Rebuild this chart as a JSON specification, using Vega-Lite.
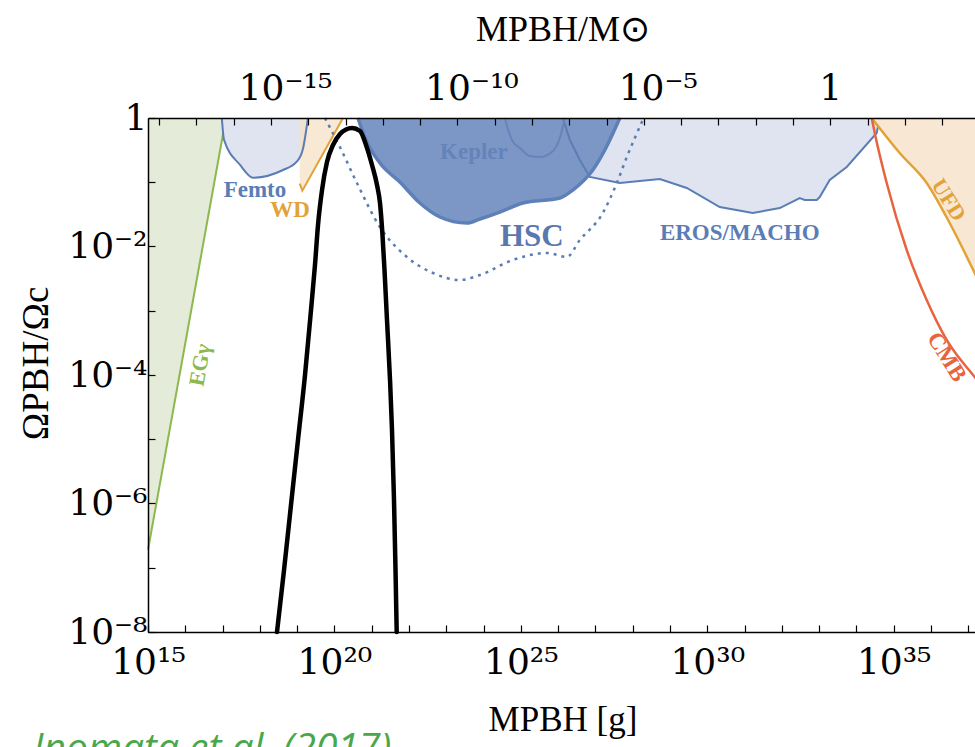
{
  "$schema": "https://vega.github.io/schema/vega-lite/v6.json",
  "width": 829,
  "height": 514,
  "autosize": "none",
  "padding": {"left": 148, "top": 118, "right": 0, "bottom": 115},
  "background": "white",
  "config": {"view": {"stroke": null}, "axis": {"grid": false, "zindex": 1}},
  "title": {"text": "Inomata et al. (2017)", "orient": "bottom", "anchor": "start", "frame": "group", "font": "Open Sans", "fontStyle": "italic", "fontWeight": "normal", "fontSize": 39, "color": "#4aa84a", "offset": -7, "dx": -115, "baseline": "top"},
  "datasets": {
    "egamma": [{"mass_g": 1e15, "omega_ratio": 1.905e-7}, {"mass_g": 1.23e17, "omega_ratio": 1}],
    "femto": [
      {"mass_g": 9.55e16, "omega_ratio": 1}, {"mass_g": 1.096e17, "omega_ratio": 0.457}, {"mass_g": 2.951e17, "omega_ratio": 0.186},
      {"mass_g": 6.607e17, "omega_ratio": 0.1175}, {"mass_g": 4.169e18, "omega_ratio": 0.155}, {"mass_g": 9.772e18, "omega_ratio": 0.209},
      {"mass_g": 1.445e19, "omega_ratio": 0.339}, {"mass_g": 1.95e19, "omega_ratio": 1}
    ],
    "wd": [{"mass_g": 1.175e19, "omega_ratio": 0.0955}, {"mass_g": 1.38e19, "omega_ratio": 0.0741}, {"mass_g": 1.698e20, "omega_ratio": 1}],
    "eros": [
      {"mass_g": 1.337e26, "omega_ratio": 1}, {"mass_g": 2.061e26, "omega_ratio": 0.455}, {"mass_g": 3.82e26, "omega_ratio": 0.222},
      {"mass_g": 7.08e26, "omega_ratio": 0.1208}, {"mass_g": 4.51e27, "omega_ratio": 0.0973}, {"mass_g": 5.33e28, "omega_ratio": 0.1125},
      {"mass_g": 2.818e29, "omega_ratio": 0.0815}, {"mass_g": 2.163e30, "omega_ratio": 0.0412}, {"mass_g": 1.66e31, "omega_ratio": 0.0332},
      {"mass_g": 8.79e31, "omega_ratio": 0.0397}, {"mass_g": 3.02e32, "omega_ratio": 0.0569}, {"mass_g": 4.11e32, "omega_ratio": 0.053},
      {"mass_g": 8.63e32, "omega_ratio": 0.053}, {"mass_g": 1.038e33, "omega_ratio": 0.0589}, {"mass_g": 1.923e33, "omega_ratio": 0.1084},
      {"mass_g": 5.5e33, "omega_ratio": 0.1726}, {"mass_g": 3.5e34, "omega_ratio": 0.585}, {"mass_g": 4.22e34, "omega_ratio": 1}
    ],
    "hsc": [
      {"mass_g": 4.266e20, "omega_ratio": 1}, {"mass_g": 7.0e20, "omega_ratio": 0.455}, {"mass_g": 1.66e21, "omega_ratio": 0.1995},
      {"mass_g": 5.7e21, "omega_ratio": 0.1009}, {"mass_g": 1.959e22, "omega_ratio": 0.0475}, {"mass_g": 6.73e22, "omega_ratio": 0.0288},
      {"mass_g": 3.565e23, "omega_ratio": 0.0232}, {"mass_g": 7.96e23, "omega_ratio": 0.0268}, {"mass_g": 2.735e24, "omega_ratio": 0.0344},
      {"mass_g": 1.132e25, "omega_ratio": 0.0475}, {"mass_g": 1.112e26, "omega_ratio": 0.0569}, {"mass_g": 2.477e26, "omega_ratio": 0.0757},
      {"mass_g": 8.51e26, "omega_ratio": 0.155}, {"mass_g": 1.786e27, "omega_ratio": 0.318}, {"mass_g": 4.51e27, "omega_ratio": 1}
    ],
    "kepler": [
      {"mass_g": 3.72e24, "omega_ratio": 1}, {"mass_g": 5.74e24, "omega_ratio": 0.455}, {"mass_g": 9.4e24, "omega_ratio": 0.341},
      {"mass_g": 1.742e25, "omega_ratio": 0.256}, {"mass_g": 3.23e25, "omega_ratio": 0.247}, {"mass_g": 6.78e25, "omega_ratio": 0.296},
      {"mass_g": 1.112e26, "omega_ratio": 0.489}, {"mass_g": 1.514e26, "omega_ratio": 1}
    ],
    "hsc_dotted": [
      {"mass_g": 5.56e19, "omega_ratio": 1}, {"mass_g": 1.403e20, "omega_ratio": 0.354}, {"mass_g": 4.01e20, "omega_ratio": 0.0973},
      {"mass_g": 1.66e21, "omega_ratio": 0.0201}, {"mass_g": 8.79e21, "omega_ratio": 0.00687}, {"mass_g": 4.38e22, "omega_ratio": 0.00387},
      {"mass_g": 2.317e23, "omega_ratio": 0.00301}, {"mass_g": 7.96e23, "omega_ratio": 0.0036}, {"mass_g": 6.11e24, "omega_ratio": 0.00617},
      {"mass_g": 4.98e25, "omega_ratio": 0.00793}, {"mass_g": 1.71e26, "omega_ratio": 0.00687}, {"mass_g": 3.82e26, "omega_ratio": 0.01262},
      {"mass_g": 1.578e27, "omega_ratio": 0.0332}, {"mass_g": 3.75e27, "omega_ratio": 0.0973}, {"mass_g": 6.95e27, "omega_ratio": 0.247},
      {"mass_g": 1.866e28, "omega_ratio": 0.931}
    ],
    "ufd": [
      {"mass_g": 2.57e34, "omega_ratio": 1}, {"mass_g": 1.449e35, "omega_ratio": 0.285}, {"mass_g": 7.67e35, "omega_ratio": 0.0973},
      {"mass_g": 3.17e36, "omega_ratio": 0.0232}, {"mass_g": 1.486e37, "omega_ratio": 0.00387}, {"mass_g": 1e38, "omega_ratio": 0.000355}
    ],
    "cmb": [
      {"mass_g": 2.57e34, "omega_ratio": 1}, {"mass_g": 3.1e34, "omega_ratio": 0.585}, {"mass_g": 6.49e34, "omega_ratio": 0.0973},
      {"mass_g": 2.234e35, "omega_ratio": 0.00883}, {"mass_g": 7.67e35, "omega_ratio": 0.00147}, {"mass_g": 2.636e36, "omega_ratio": 0.000351},
      {"mass_g": 1.486e37, "omega_ratio": 9.31e-5}, {"mass_g": 1e38, "omega_ratio": 2.45e-5}
    ],
    "pbh": [
      {"mass_g": 2.884e18, "omega_ratio": 1e-8}, {"mass_g": 4.45e18, "omega_ratio": 9.23e-8}, {"mass_g": 6.84e18, "omega_ratio": 9.48e-7},
      {"mass_g": 1.054e19, "omega_ratio": 9.73e-6}, {"mass_g": 1.626e19, "omega_ratio": 1e-4}, {"mass_g": 2.355e19, "omega_ratio": 0.001028},
      {"mass_g": 3.01e19, "omega_ratio": 0.00515}, {"mass_g": 3.63e19, "omega_ratio": 0.02163}, {"mass_g": 4.65e19, "omega_ratio": 0.0757},
      {"mass_g": 6.32e19, "omega_ratio": 0.2065}, {"mass_g": 9.16e19, "omega_ratio": 0.38}, {"mass_g": 1.413e20, "omega_ratio": 0.564},
      {"mass_g": 2.046e20, "omega_ratio": 0.662}, {"mass_g": 2.965e20, "omega_ratio": 0.698}, {"mass_g": 4.85e20, "omega_ratio": 0.628},
      {"mass_g": 7.03e20, "omega_ratio": 0.38}, {"mass_g": 1.019e21, "omega_ratio": 0.1854}, {"mass_g": 1.387e21, "omega_ratio": 0.0906},
      {"mass_g": 1.667e21, "omega_ratio": 0.0475}, {"mass_g": 1.945e21, "omega_ratio": 0.0151}, {"mass_g": 2.203e21, "omega_ratio": 0.00431},
      {"mass_g": 2.57e21, "omega_ratio": 0.000718}, {"mass_g": 3.1e21, "omega_ratio": 8.36e-5}, {"mass_g": 3.5e21, "omega_ratio": 1.393e-5},
      {"mass_g": 3.96e21, "omega_ratio": 1.132e-6}, {"mass_g": 4.35e21, "omega_ratio": 9.23e-8}, {"mass_g": 4.68e21, "omega_ratio": 1e-8}
    ],
    "labels": [
      {"label": "Femto", "mass_g": 7.4e17, "omega_ratio": 0.0757},
      {"label": "WD", "mass_g": 6.41e18, "omega_ratio": 0.037},
      {"label": "Kepler", "mass_g": 5.5e23, "omega_ratio": 0.296},
      {"label": "HSC", "mass_g": 1.972e25, "omega_ratio": 0.01406},
      {"label": "EROS/MACHO", "mass_g": 7.43e30, "omega_ratio": 0.0162},
      {"label": "EGγ", "mass_g": 2.477e16, "omega_ratio": 0.0001432},
      {"label": "UFD", "mass_g": 2.985e36, "omega_ratio": 0.053},
      {"label": "CMB", "mass_g": 2.636e36, "omega_ratio": 0.0001905}
    ]
  },
  "resolve": {"axis": {"x": "independent"}},
  "encoding": {
    "x": {"field": "mass_g", "type": "quantitative", "scale": {"type": "log", "domain": [1e15, 1.714e37]}, "axis": null},
    "y": {"field": "omega_ratio", "type": "quantitative", "scale": {"type": "log", "domain": [1e-8, 1]},
      "axis": {"orient": "left", "zindex": 1, "values": [1,0.1,0.01,0.001,0.0001,1e-5,1e-6,1e-7,1e-8],
        "labelExpr": "['1','','10⁻²','','10⁻⁴','','10⁻⁶','','10⁻⁸'][round(-log(datum.value)/LN10)]",
        "tickSize": -7, "tickColor": "black", "tickWidth": 1.2, "domainColor": "black", "domainWidth": 1.5,
        "labelFont": "DejaVu Serif", "labelFontSize": 36, "labelColor": "black", "labelPadding": 8, "labelOverlap": false, "labelFlush": false,
        "title": "ΩPBH/Ωc", "titleFont": "Liberation Serif", "titleFontSize": 37, "titleFontWeight": "normal", "titleColor": "black", "titlePadding": 12, "titleY": 245}}
  },
  "layer": [
    {
      "data": {"name": "egamma"},
      "mark": {"type": "area", "color": "#e4ebd8", "opacity": 1},
      "encoding": {
        "x": {"field": "mass_g", "type": "quantitative", "scale": {"type": "log", "domain": [1e15, 1.714e37]},
          "axis": {"orient": "bottom", "zindex": 1, "values": [1e15,1e16,1e17,1e18,1e19,1e20,1e21,1e22,1e23,1e24,1e25,1e26,1e27,1e28,1e29,1e30,1e31,1e32,1e33,1e34,1e35,1e36,1e37],
            "labelExpr": "['10¹⁵','','','','','10²⁰','','','','','10²⁵','','','','','10³⁰','','','','','10³⁵','',''][round(log(datum.value)/LN10)-15]",
            "tickSize": -7, "tickColor": "black", "tickWidth": 1.2, "domainColor": "black", "domainWidth": 1.5,
            "labelFont": "DejaVu Serif", "labelFontSize": 36, "labelColor": "black", "labelPadding": 20, "labelOverlap": false, "labelFlush": false,
            "title": "MPBH [g]", "titleFont": "Liberation Serif", "titleFontSize": 35, "titleFontWeight": "normal", "titleColor": "black", "titlePadding": 22}},
        "y2": {"datum": 1}
      }
    },
    {"data": {"name": "egamma"}, "mark": {"type": "line", "color": "#8cb84e", "strokeWidth": 2}, "encoding": {}},
    {"data": {"name": "femto"}, "mark": {"type": "area", "color": "#dfe4f0", "interpolate": "monotone"}, "encoding": {"y2": {"datum": 1}}},
    {"data": {"name": "wd"}, "mark": {"type": "area", "color": "#f6e2c6", "opacity": 0.75}, "encoding": {"y2": {"datum": 1}}},
    {"data": {"name": "femto"}, "mark": {"type": "line", "color": "#5b7db5", "strokeWidth": 2, "interpolate": "monotone"}, "encoding": {}},
    {"data": {"name": "wd"}, "mark": {"type": "line", "color": "#e3a238", "strokeWidth": 2}, "encoding": {}},
    {"data": {"name": "eros"}, "mark": {"type": "area", "color": "#dfe4f0"}, "encoding": {"y2": {"datum": 1}}},
    {"data": {"name": "hsc"}, "mark": {"type": "area", "color": "#7c97c6", "interpolate": "monotone"}, "encoding": {"y2": {"datum": 1}}},
    {"data": {"name": "eros"}, "mark": {"type": "line", "color": "#5b7db5", "strokeWidth": 2}, "encoding": {}},
    {"data": {"name": "kepler"}, "mark": {"type": "line", "color": "#6684ba", "strokeWidth": 2, "interpolate": "monotone"}, "encoding": {}},
    {"data": {"name": "hsc"}, "mark": {"type": "line", "color": "#5e80b9", "strokeWidth": 3.5, "interpolate": "monotone"}, "encoding": {}},
    {"data": {"name": "hsc_dotted"}, "mark": {"type": "line", "color": "#5b7db5", "strokeWidth": 2.5, "strokeDash": [3, 5], "interpolate": "monotone"}, "encoding": {}},
    {"data": {"name": "ufd"}, "mark": {"type": "area", "color": "#f8e8d3", "interpolate": "monotone", "clip": true}, "encoding": {"y2": {"datum": 1}}},
    {"data": {"name": "ufd"}, "mark": {"type": "line", "color": "#e3a238", "strokeWidth": 2.5, "interpolate": "monotone", "clip": true}, "encoding": {}},
    {"data": {"name": "cmb"}, "mark": {"type": "line", "color": "#e8643c", "strokeWidth": 2.5, "interpolate": "monotone", "clip": true}, "encoding": {}},
    {
      "data": {"name": "pbh"},
      "mark": {"type": "line", "color": "black", "strokeWidth": 4.5, "interpolate": "monotone", "strokeCap": "round"},
      "encoding": {
        "x": {"field": "mass_g", "type": "quantitative", "scale": {"type": "log", "domain": [1e15, 1.714e37]},
          "axis": {"orient": "top", "zindex": 1, "values": [1.989e15,1.989e16,1.989e17,1.989e18,1.989e19,1.989e20,1.989e21,1.989e22,1.989e23,1.989e24,1.989e25,1.989e26,1.989e27,1.989e28,1.989e29,1.989e30,1.989e31,1.989e32,1.989e33,1.989e34,1.989e35,1.989e36],
            "labelExpr": "['','','','10⁻¹⁵','','','','','10⁻¹⁰','','','','','10⁻⁵','','','','','1','','',''][round(log(datum.value/1.989e33)/LN10)+18]",
            "tickSize": -7, "tickColor": "black", "tickWidth": 1.2, "domainColor": "black", "domainWidth": 1.5,
            "labelFont": "DejaVu Serif", "labelFontSize": 36, "labelColor": "black", "labelPadding": 18, "labelOverlap": false, "labelFlush": false,
            "labelOffset": {"condition": {"test": "datum.value > 1e33", "value": 0}, "value": 14},
            "title": "MPBH/M⊙", "titleFont": "Liberation Serif", "titleFontSize": 36, "titleFontWeight": "normal", "titleColor": "black", "titlePadding": 22}}
      }
    },
    {"data": {"name": "labels"}, "transform": [{"filter": "datum.label == 'Femto' || datum.label == 'EROS/MACHO'"}], "mark": {"type": "text", "font": "Liberation Serif", "fontWeight": "bold", "fontSize": 23, "color": "#5b7db5", "align": "center", "baseline": "middle"}, "encoding": {"text": {"field": "label"}}},
    {"data": {"name": "labels"}, "transform": [{"filter": "datum.label == 'HSC'"}], "mark": {"type": "text", "font": "Liberation Serif", "fontWeight": "bold", "fontSize": 31, "color": "#5a78b0", "align": "center", "baseline": "middle"}, "encoding": {"text": {"field": "label"}}},
    {"data": {"name": "labels"}, "transform": [{"filter": "datum.label == 'Kepler'"}], "mark": {"type": "text", "font": "Liberation Serif", "fontWeight": "bold", "fontSize": 23, "color": "#6383ba", "align": "center", "baseline": "middle"}, "encoding": {"text": {"field": "label"}}},
    {"data": {"name": "labels"}, "transform": [{"filter": "datum.label == 'WD'"}], "mark": {"type": "text", "font": "Liberation Serif", "fontWeight": "bold", "fontSize": 23, "color": "#e3a238", "align": "center", "baseline": "middle"}, "encoding": {"text": {"field": "label"}}},
    {"data": {"name": "labels"}, "transform": [{"filter": "datum.label == 'EGγ'"}], "mark": {"type": "text", "font": "Liberation Serif", "fontWeight": "bold", "fontSize": 22, "color": "#8cb84e", "align": "center", "baseline": "middle", "angle": 280}, "encoding": {"text": {"field": "label"}}},
    {"data": {"name": "labels"}, "transform": [{"filter": "datum.label == 'UFD'"}], "mark": {"type": "text", "font": "Liberation Serif", "fontWeight": "bold", "fontSize": 22, "color": "#e3a238", "align": "center", "baseline": "middle", "angle": 58}, "encoding": {"text": {"field": "label"}}},
    {"data": {"name": "labels"}, "transform": [{"filter": "datum.label == 'CMB'"}], "mark": {"type": "text", "font": "Liberation Serif", "fontWeight": "bold", "fontSize": 23, "color": "#e8643c", "align": "center", "baseline": "middle", "angle": 58}, "encoding": {"text": {"field": "label"}}}
  ]
}
